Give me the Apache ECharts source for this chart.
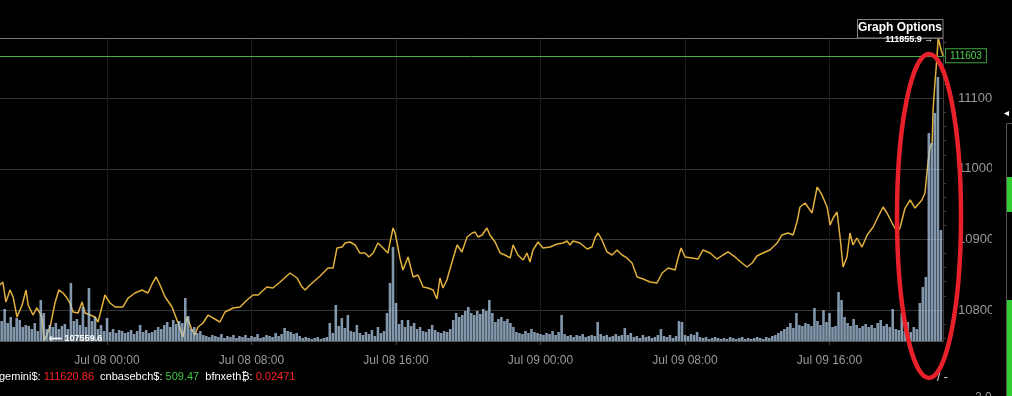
<!DOCTYPE html>
<html>
<head>
<meta charset="utf-8">
<script src="https://cdn.jsdelivr.net/npm/echarts@6/dist/echarts.min.js"></script>
<style>
  html, body { margin: 0; padding: 0; background: #000; }
  #chart { width: 1012px; height: 396px; }
</style>
</head>
<body>
<div id="chart"></div>
<script>
// Time is in minutes since Jul 07 18:00
const priceMinutes = [4,14,24,38,48,61,78,91,98,114,127,144,151,171,187,200,214,227,237,247,264,277,287,304,320,330,343,353,370,387,413,430,453,476,496,513,523,536,553,576,596,612,626,642,652,662,679,696,712,735,752,779,802,825,845,862,891,911,935,968,991,1008,1018,1034,1068,1094,1111,1124,1141,1151,1167,1184,1200,1217,1230,1244,1260,1277,1293,1310,1317,1323,1333,1343,1360,1377,1393,1410,1426,1443,1456,1466,1476,1489,1506,1523,1539,1556,1573,1583,1592,1606,1622,1632,1649,1666,1682,1699,1709,1725,1742,1755,1765,1775,1792,1808,1832,1855,1875,1888,1898,1908,1931,1955,1971,1981,1991,2004,2021,2038,2054,2071,2087,2104,2121,2141,2164,2187,2204,2224,2247,2257,2267,2280,2303,2323,2340,2363,2386,2406,2423,2446,2469,2486,2503,2519,2539,2562,2586,2602,2622,2639,2652,2662,2679,2702,2719,2735,2752,2762,2772,2785,2795,2805,2818,2828,2838,2851,2868,2885,2905,2921,2938,2951,2968,2984,2994,3011,3028,3044,3067,3077,3087,3094,3101,3104,3111,3117,3121,3131,3137];
const priceValues = [108354,108396,108113,108283,108184,107900,108070,108283,108070,107928,108028,107900,107559.6,107758,108098,108283,108240,108169,108098,107971,107957,108113,107957,107928,107900,107829,108042,108212,108098,108042,108042,108169,108240,108283,108240,108396,108467,108354,108184,108042,107815,107616,107900,107716,107645,107758,107815,107928,107886,107829,107971,108028,108042,108141,108212,108212,108325,108311,108396,108524,108453,108325,108283,108354,108481,108595,108595,108878,108892,108949,108963,108921,108807,108807,108751,108807,108949,108878,108807,109162,109091,108963,108737,108566,108751,108467,108495,108325,108311,108283,108155,108453,108311,108425,108680,108921,108822,109034,109091,109105,109034,109063,109162,109063,108963,108807,108779,108737,108921,108779,108708,108807,108680,108850,108963,108878,108892,108935,108949,108978,108921,108978,108949,108864,108892,109020,109091,108992,108822,108779,108850,108779,108737,108666,108467,108439,108396,108382,108524,108595,108566,108737,108878,108751,108737,108722,108850,108807,108722,108779,108822,108751,108666,108609,108666,108765,108807,108850,108949,109063,109091,109063,109247,109460,109516,109375,109743,109630,109460,109204,109304,109389,109034,108609,108751,109091,108921,109020,108892,109063,109176,109318,109460,109375,109233,109105,109162,109445,109559,109445,109559,109658,110083,110310,110367,110835,111260,111586,111855.9,111686,111603];
// 10-minute volume bars starting at Jul 07 18:00
const volumeStepMinutes = 10;
const volumeValues = [94,20,32,18,24,14,23,21,14,16,15,
  12,18,10,41,28,12,16,14,18,12,
  15,17,12,58,20,22,16,34,14,53,
  20,24,12,16,10,23,9,12,8,11,
  10,8,9,11,7,10,16,9,11,8,
  9,11,14,12,16,19,14,21,17,20,
  18,43,25,12,14,8,10,6,5,4,
  6,5,4,7,3,5,4,6,3,5,
  4,6,3,5,4,7,3,4,6,5,
  4,8,5,7,13,10,9,7,8,5,
  3,4,3,2,3,4,2,3,4,18,
  8,36,15,23,13,26,10,9,16,8,
  6,9,7,11,5,14,8,10,28,58,
  94,38,17,21,14,21,15,18,12,14,
  10,9,12,16,11,9,8,10,9,12,
  21,28,24,26,30,34,28,26,30,27,
  32,30,41,28,19,22,24,20,22,18,
  14,9,8,7,10,8,12,9,8,7,
  6,8,7,10,6,9,26,7,5,6,
  4,6,5,7,4,5,6,5,19,7,
  5,6,4,5,7,5,6,13,6,8,
  4,5,3,6,4,5,3,4,6,12,
  5,4,6,3,5,20,19,6,5,7,
  6,9,4,3,4,2,3,4,3,2,
  3,2,4,3,2,3,4,2,3,2,
  3,4,3,2,4,3,5,6,8,10,
  12,14,18,13,28,16,15,18,17,15,
  33,20,16,31,19,28,14,15,49,41,
  24,18,15,22,16,13,15,17,14,16,
  13,18,21,15,17,14,32,12,11,28,
  10,19,9,14,12,
  38,54,64,208,198,228,264,111];
const tickMinutes = [360, 840, 1320, 1800, 2280, 2760];
const tickLabels = ['Jul 08 00:00', 'Jul 08 08:00', 'Jul 08 16:00', 'Jul 09 00:00', 'Jul 09 08:00', 'Jul 09 16:00'];
const viewStartMinute = 4.5;
const viewEndMinute = 3137;
const latestPrice = 111603;
const legendNames = ['gemini$', 'cnbasebch$', 'bfnxeth₿'];
const legendValues = ['111620.86', '509.47', '0.02471'];
const legendUp = [false, true, false];

const FONT = '"Liberation Sans", Arial, sans-serif';
const priceData = priceMinutes.map((m, i) => [m, priceValues[i]]);
const volumeData = volumeValues.map((v, i) => [i * volumeStepMinutes, v]);

const legendText = legendNames.map((n, i) =>
  '{w|' + n + ': }{' + (legendUp[i] ? 'g' : 'r') + '|' + legendValues[i] + '}').join('{w|  }');

const chart = echarts.init(document.getElementById('chart'), null, { renderer: 'canvas' });
chart.setOption({
  backgroundColor: '#000',
  animation: false,
  grid: { left: 0, right: 69, top: 38, bottom: 55 },
  xAxis: {
    type: 'value', min: viewStartMinute, max: viewEndMinute,
    axisLine: { show: true, lineStyle: { color: '#555' } },
    axisTick: { show: true, customValues: tickMinutes, length: 4, lineStyle: { color: '#444' } },
    axisLabel: {
      customValues: tickMinutes, color: '#9a9a9a', fontSize: 12, fontFamily: FONT, margin: 14,
      formatter: v => tickLabels[tickMinutes.indexOf(v)] || ''
    },
    splitLine: { show: true, lineStyle: { color: '#1c1c1c' } }
  },
  yAxis: [{
    type: 'value', position: 'right', min: 'dataMin', max: 'dataMax', splitNumber: 4,
    axisLine: { show: true, lineStyle: { color: '#3a3a3a' } },
    axisTick: { show: false },
    minorTick: { show: true, splitNumber: 5, length: 3, lineStyle: { color: '#444' } },
    axisLabel: { color: '#9a9a9a', fontSize: 13, fontFamily: FONT, margin: 15, showMinLabel: false, showMaxLabel: false,
      formatter: v => String(v) },
    splitLine: { show: true, lineStyle: { color: '#353535' } }
  }, {
    type: 'value', min: 0, max: 303, show: false, splitLine: { show: false }
  }],
  series: [{
    type: 'line', data: priceData, yAxisIndex: 0, z: 2,
    showSymbol: false, symbol: 'none',
    lineStyle: { color: '#e2b03c', width: 1.5 },
    markLine: {
      silent: true, symbol: ['none', 'none'], z: 4,
      data: [
        { type: 'max', lineStyle: { color: '#777', width: 1, type: 'solid' }, label: { show: false } },
        { yAxis: latestPrice, lineStyle: { color: '#4caf50', width: 1, type: 'solid' },
          label: { show: true, position: 'end', formatter: String(latestPrice), color: '#4fcf4f',
            fontSize: 10, fontFamily: FONT, borderColor: '#3fa63f', borderWidth: 1,
            padding: [2, 4, 1, 4], backgroundColor: '#000', distance: 3 } }
      ]
    },
    markPoint: {
      silent: true, symbol: 'circle', symbolSize: 0, z: 6,
      data: [
        { type: 'max', label: { position: 'left', distance: 5, offset: [0, 2], formatter: p => p.value + ' →' } },
        { type: 'min', label: { position: 'right', distance: 5, offset: [0, -2], formatter: p => '⟵ ' + p.value } }
      ],
      label: { show: true, color: '#fff', fontSize: 9, fontWeight: 'bold', fontFamily: FONT }
    }
  }, {
    type: 'bar', data: volumeData, yAxisIndex: 1, z: 3,
    barWidth: 2.6,
    itemStyle: { color: 'rgba(176,204,232,0.74)' }
  }],
  graphic: [
    { type: 'rect', z: 10, shape: { x: 992, y: 60, width: 13, height: 280 }, style: { fill: '#000' } },
    { type: 'rect', z: 0, shape: { x: 857.5, y: 19.5, width: 85.5, height: 18.5 }, style: { fill: '#000', stroke: '#888', lineWidth: 1 } },
    { type: 'text', z: 1, x: 900, y: 28, style: { text: 'Graph Options', fill: '#fff', font: 'bold 12px ' + FONT, align: 'center', verticalAlign: 'middle' } },
    { type: 'line', z: 10, shape: { x1: 1006.5, y1: 123.5, x2: 1006.5, y2: 396 }, style: { stroke: '#555', lineWidth: 1 } },
    { type: 'line', z: 10, shape: { x1: 1006.5, y1: 123.5, x2: 1012, y2: 123.5 }, style: { stroke: '#555', lineWidth: 1 } },
    { type: 'rect', z: 10, shape: { x: 1007, y: 177, width: 5, height: 35 }, style: { fill: '#33cc33' } },
    { type: 'rect', z: 10, shape: { x: 1007, y: 300, width: 5, height: 96 }, style: { fill: '#33cc33' } },
    { type: 'text', z: 11, x: 1004, y: 113, style: { text: '◂', fill: '#fff', font: '10px ' + FONT, verticalAlign: 'middle' } },
    { type: 'text', z: 11, x: 975, y: 392, style: { text: '2.0', fill: '#999', font: '12px ' + FONT } },
    { type: 'text', z: 11, x: 937, y: 372, style: { text: '/ -', fill: '#dde', font: '12px ' + FONT } },
    { type: 'text', z: 11, x: -1, y: 377, style: {
        text: legendText, verticalAlign: 'middle',
        rich: {
          w: { fill: '#fff', fontSize: 11, fontFamily: FONT },
          r: { fill: '#ff2222', fontSize: 11, fontFamily: FONT },
          g: { fill: '#3fc43f', fontSize: 11, fontFamily: FONT }
        } } },
    { type: 'ellipse', z: 20, shape: { cx: 929, cy: 216, rx: 32, ry: 162 }, style: { fill: null, stroke: '#e8202a', lineWidth: 4.5 } }
  ]
});
</script>
</body>
</html>
